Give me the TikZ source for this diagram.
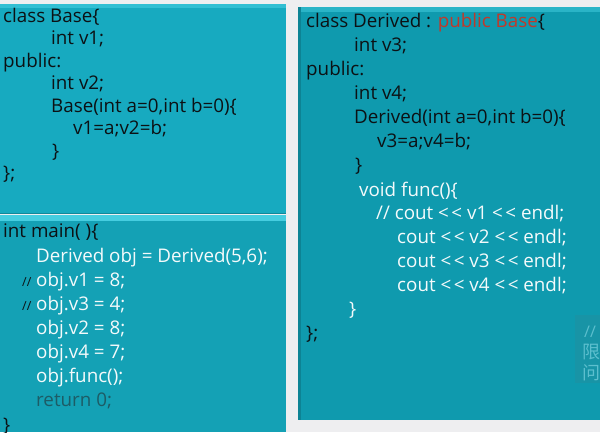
\documentclass[tikz,border=0pt]{standalone}
\usepackage{fontspec}
\setmainfont{Open Sans}
\newfontfamily\cjkfont{Noto Sans CJK SC}
\definecolor{bgpage}{HTML}{EEEEF0}
\definecolor{boxA}{HTML}{17AAC0}
\definecolor{boxB}{HTML}{14A1B5}
\definecolor{boxC}{HTML}{0F9AAE}
\definecolor{bevel}{HTML}{45CDE0}
\definecolor{codeDark}{HTML}{0C1114}
\definecolor{codeWhite}{HTML}{F4FAFB}
\definecolor{codeRed}{HTML}{C0392B}
\definecolor{codeMute}{HTML}{1D5C66}
\definecolor{wmBox}{HTML}{1894A6}
\definecolor{wmText}{HTML}{5CBFCE}
\newcommand{\ltlt}{<\kern2.5pt<}
\tikzset{
  code/.style={anchor=base west, inner sep=0pt, font=\fontsize{18.8}{21}\selectfont},
  dk/.style={code, text=codeDark},
  wh/.style={code, text=codeWhite},
  cmt/.style={anchor=base west, inner sep=0pt, font=\fontsize{12.5}{14}\selectfont, text=codeDark},
}
\begin{document}
\begin{tikzpicture}[x=1pt,y=-1pt]
\useasboundingbox (0,0) rectangle (600,432);
\fill[bgpage] (0,0) rectangle (600,432);
% left top box
\fill[boxA] (0,4) rectangle (286,214);
\fill[bevel!60!boxA] (0,4) rectangle (286,8);
\fill[boxA!80!black] (0,212.5) rectangle (286,214);
% main box
\fill[boxB] (0,215) rectangle (286,432);
\fill[bevel] (0,215) rectangle (286,221);
% right box
\fill[boxC] (298,7) rectangle (600,420);
\fill[bevel!50!boxC] (298,7) rectangle (600,12);
\fill[boxC!85!black] (298,7) rectangle (301,420);
% watermark
\fill[wmBox] (575,315) rectangle (600,383);
\node[anchor=base west, inner sep=0pt, text=wmText, font=\fontsize{16}{18}\selectfont] (wm1) at (584,337) {//};
\node[anchor=base west, inner sep=0pt, text=wmText, font=\cjkfont\fontsize{18}{20}\selectfont] (wm2) at (582,358) {限};
\node[anchor=base west, inner sep=0pt, text=wmText, font=\cjkfont\fontsize{18}{20}\selectfont] (wm3) at (582,379) {问};
% Base class
\node[dk] (b1) at (3,22) {class Base\{};
\node[dk] (b2) at (51,44.5) {int v1;};
\node[dk] (b3) at (3,67) {public:};
\node[dk] (b4) at (51,89.5) {int v2;};
\node[dk] (b5) at (51,112) {Base(int a=0,int b=0)\{};
\node[dk] (b6) at (73,134.5) {v1=a;v2=b;};
\node[dk] (b7) at (52,157) {\}};
\node[dk] (b8) at (3,179) {\};};
% main
\node[dk] (m1) at (3,237) {int main( )\{};
\node[wh] (m2) at (36,262.5) {Derived obj = Derived(5,6);};
\node[cmt] (c1) at (22,286) {//};
\node[wh] (m3) at (36,286.5) {obj.v1 = 8;};
\node[cmt] (c2) at (22,310) {//};
\node[wh] (m4) at (36,310.5) {obj.v3 = 4;};
\node[wh] (m5) at (36,334.5) {obj.v2 = 8;};
\node[wh] (m6) at (36,358.5) {obj.v4 = 7;};
\node[wh] (m7) at (36,382.5) {obj.func();};
\node[code, text=codeMute] (m8) at (36,406.5) {return 0;};
\node[dk] (m9) at (3,431) {\}};
% Derived class
\node[dk] (d1) at (306,27.5) {class Derived : \textcolor{codeRed}{public Base}\{};
\node[dk] (d2) at (354,51.5) {int v3;};
\node[dk] (d3) at (306,75.5) {public:};
\node[dk] (d4) at (354,99.5) {int v4;};
\node[dk] (d5) at (354,123.5) {Derived(int a=0,int b=0)\{};
\node[dk] (d6) at (377,147.5) {v3=a;v4=b;};
\node[dk] (d7) at (355,171.5) {\}};
\node[wh] (d8) at (359,196) {void func()\{};
\node[wh] (d9) at (376,219.5) {// cout \ltlt\ v1 \ltlt\ endl;};
\node[wh] (d10) at (397,243.5) {cout \ltlt\ v2 \ltlt\ endl;};
\node[wh] (d11) at (397,267.5) {cout \ltlt\ v3 \ltlt\ endl;};
\node[wh] (d12) at (397,291.5) {cout \ltlt\ v4 \ltlt\ endl;};
\node[wh] (d13) at (349,315.5) {\}};
\node[dk] (d14) at (306,339) {\};};
\end{tikzpicture}
\end{document}
